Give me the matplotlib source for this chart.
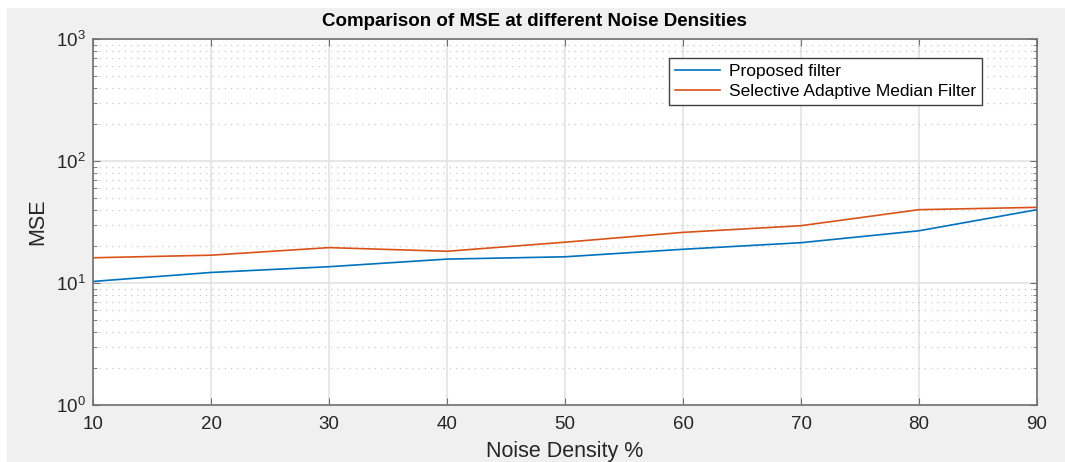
import numpy as np
import matplotlib
matplotlib.use('Agg')
import matplotlib.pyplot as plt
from matplotlib.patches import Rectangle
from matplotlib.ticker import LogLocator, NullFormatter

plt.rcParams['font.family'] = ['Liberation Sans', 'DejaVu Sans']
plt.rcParams['mathtext.default'] = 'regular'

noise_density = [10, 20, 30, 40, 50, 60, 70, 80, 90]
mse_proposed = [10.3, 12.2, 13.6, 15.7, 16.4, 18.9, 21.4, 26.8, 39.9]
mse_samf = [16.1, 16.9, 19.5, 18.2, 21.6, 26.0, 29.5, 39.9, 41.7]

W, H = 1065, 462
fig = plt.figure(figsize=(W / 100, H / 100), dpi=100, facecolor='white')
# grey MATLAB-like figure background
fig.patches.append(Rectangle((7 / W, 0), 1, 1 - 8 / H, transform=fig.transFigure,
                             facecolor='#f0f0f0', edgecolor='none', zorder=-10))

ax = fig.add_axes([93 / W, 1 - 405 / H, (1037 - 93) / W, (405 - 39) / H])
ax.set_facecolor('white')

ax.plot(noise_density, mse_proposed, color='#0072BD', lw=1.2, label='Proposed filter')
ax.plot(noise_density, mse_samf, color='#D95319', lw=1.2, label='Selective Adaptive Median Filter')

ax.set_yscale('log')
ax.set_xlim(10, 90)
ax.set_ylim(1, 1000)
ax.set_xticks(noise_density)
ax.yaxis.set_major_locator(LogLocator(base=10, numticks=10))
ax.yaxis.set_minor_locator(LogLocator(base=10, subs=np.arange(2, 10), numticks=20))
ax.yaxis.set_minor_formatter(NullFormatter())

ax.grid(True, which='major', color='#e3e3e3', lw=1.2, ls='-')
ax.grid(True, which='minor', axis='y', color='#c8c8c8', lw=0.9, ls=(0, (1, 4)))
ax.set_axisbelow(True)

spine_col = '#707070'
for s in ax.spines.values():
    s.set_color(spine_col)
    s.set_linewidth(1.2)
ax.tick_params(which='both', direction='in', top=True, right=True, colors=spine_col,
               labelcolor='#262626', labelsize=13.5)
ax.tick_params(which='major', length=5)
ax.tick_params(which='minor', length=3)
ax.tick_params(axis='x', pad=8)
ax.tick_params(axis='y', pad=5)

fig.text(534 / W, 1 - 21 / H, 'Comparison of MSE at different Noise Densities',
         fontsize=13.5, fontweight='bold', ha='center', va='center')
ax.set_xlabel('Noise Density %', fontsize=15.5, color='#262626', labelpad=6)
ax.set_ylabel('MSE', fontsize=15.5, color='#262626', labelpad=6)

leg = ax.legend(loc='upper right', bbox_to_anchor=(0.942, 0.948), borderaxespad=0,
                fontsize=12.5, fancybox=False, framealpha=1, edgecolor='#404040',
                handlelength=2.6, handletextpad=0.5, borderpad=0.35, labelspacing=0.25)
leg.get_frame().set_linewidth(1.0)

fig.savefig('out.png', dpi=100, facecolor=fig.get_facecolor())
